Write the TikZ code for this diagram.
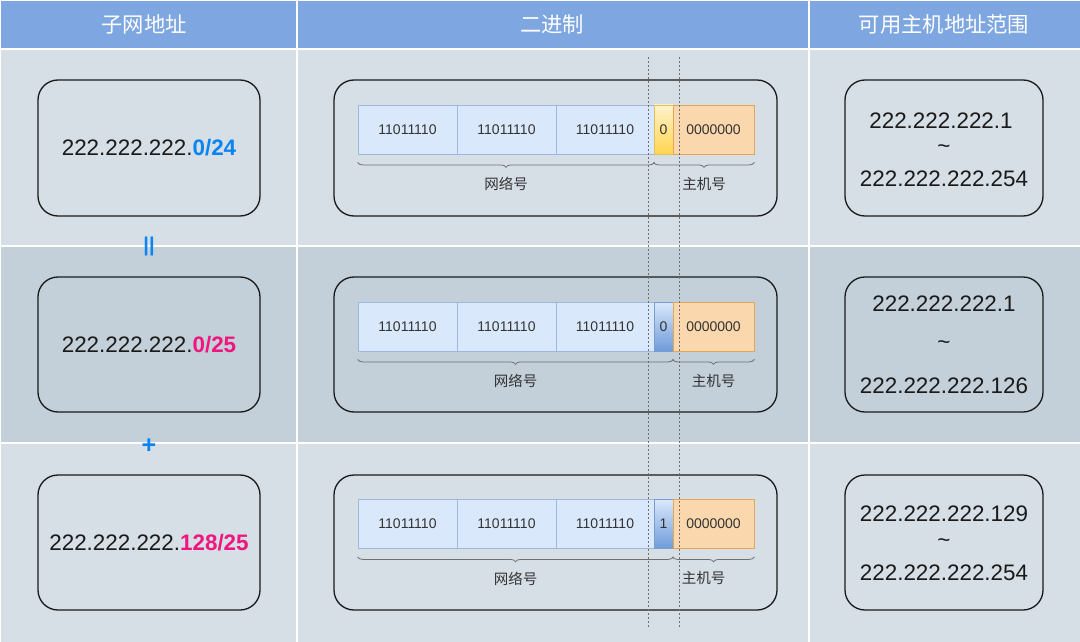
\documentclass[tikz,border=0pt]{standalone}
\usepackage{fontspec}
\setmainfont{Liberation Sans}
\newfontfamily\cjk{Noto Sans CJK SC}
\usetikzlibrary{decorations.pathreplacing}
\definecolor{hdr}{HTML}{7EA6E0}
\definecolor{rowA}{HTML}{D6DEE6}
\definecolor{rowB}{HTML}{C3CFD9}
\definecolor{netfill}{HTML}{DAE8FC}
\definecolor{netline}{HTML}{9DB7DE}
\definecolor{hostfill}{HTML}{FAD7AC}
\definecolor{hostline}{HTML}{E3A657}
\definecolor{ytop}{HTML}{FFF2CC}
\definecolor{ybot}{HTML}{FFD54F}
\definecolor{yline}{HTML}{E0C060}
\definecolor{btop}{HTML}{DAE8FC}
\definecolor{bbot}{HTML}{6F9BDA}
\definecolor{bline}{HTML}{7A9CCF}
\definecolor{myblue}{HTML}{0A84F0}
\definecolor{mypink}{HTML}{F0157F}
\definecolor{txt}{HTML}{1A1A1A}
\definecolor{celltxt}{HTML}{333333}
\definecolor{brc}{HTML}{707070}
\tikzset{
  hdrcell/.style={fill=hdr, draw=none},
  hdrtext/.style={text=white, font=\cjk\fontsize{21.3}{25}\selectfont},
  outerbox/.style={draw=txt, line width=1.3pt, rounded corners=20pt, inner sep=0pt},
  addrtext/.style={text=txt, font=\fontsize{22.4}{26}\selectfont},
  netcell/.style={fill=netfill, draw=netline, line width=0.8pt, minimum height=49pt, inner sep=0pt, text=celltxt, font=\fontsize{14}{16}\selectfont},
  hostcell/.style={fill=hostfill, draw=hostline, line width=0.8pt, minimum height=49pt, minimum width=81pt, inner sep=0pt, text=celltxt, font=\fontsize{14}{16}\selectfont},
  ycell/.style={top color=ytop, bottom color=ybot, draw=yline, line width=0.8pt, minimum height=49pt, minimum width=19pt, inner sep=0pt, text=celltxt, font=\fontsize{14}{16}\selectfont},
  bcell/.style={top color=btop, bottom color=bbot, draw=bline, line width=0.8pt, minimum height=49pt, minimum width=19pt, inner sep=0pt, text=celltxt, font=\fontsize{14}{16}\selectfont},
  brc/.style={draw=brc, line width=0.8pt, decorate, decoration={brace, mirror, amplitude=5pt}},
  brlabel/.style={text=celltxt, font=\cjk\fontsize{14.5}{16}\selectfont},
  divline/.style={draw=brc, line width=0.8pt, dash pattern=on 2pt off 2pt},
  opsign/.style={text=myblue, font=\bfseries\fontsize{20}{22}\selectfont}
}
\begin{document}
\begin{tikzpicture}[x=1pt,y=-1pt]
\useasboundingbox (0,0) rectangle (1080,642);
\fill[white] (0,0) rectangle (1080,642);
% header
\fill[hdrcell] (1,1) rectangle (296,48);
\fill[hdrcell] (298,1) rectangle (808,48);
\fill[hdrcell] (810,1) rectangle (1080,48);
\node[hdrtext] (h1) at (144,24) {子网地址};
\node[hdrtext] (h2) at (552,24) {二进制};
\node[hdrtext] (h3) at (944,24) {可用主机地址范围};
% rows
\fill[rowA] (1,50) rectangle (296,245);
\fill[rowA] (298,50) rectangle (808,245);
\fill[rowA] (810,50) rectangle (1080,245);
\fill[rowB] (1,247) rectangle (296,442);
\fill[rowB] (298,247) rectangle (808,442);
\fill[rowB] (810,247) rectangle (1080,442);
\fill[rowA] (1,444) rectangle (296,642);
\fill[rowA] (298,444) rectangle (808,642);
\fill[rowA] (810,444) rectangle (1080,642);

% left boxes
\node[outerbox, minimum width=222pt, minimum height=136pt] (L1) at (149,148) {};
\node[addrtext] (L1t) at (L1.center) {222.222.222.\textcolor{myblue}{\bfseries 0/24}};
\node[outerbox, minimum width=222pt, minimum height=135pt] (L2) at (149,344.5) {};
\node[addrtext] (L2t) at (L2.center) {222.222.222.\textcolor{mypink}{\bfseries 0/25}};
\node[outerbox, minimum width=222pt, minimum height=135pt] (L3) at (149,542.5) {};
\node[addrtext] (L3t) at (L3.center) {222.222.222.\textcolor{mypink}{\bfseries 128/25}};
\node[opsign] (eq) at (149,246) {||};
\node[opsign, font=\bfseries\fontsize{25}{26}\selectfont] (plus) at (149,446) {+};

% middle boxes
\node[outerbox, minimum width=443pt, minimum height=136pt] (M1) at (555.5,148) {};
\node[outerbox, minimum width=443pt, minimum height=135pt] (M2) at (555.5,344.5) {};
\node[outerbox, minimum width=443pt, minimum height=135pt] (M3) at (555.5,542.5) {};

% right boxes
\node[outerbox, minimum width=198pt, minimum height=136pt] (R1) at (944,148) {};
\node[outerbox, minimum width=198pt, minimum height=135pt] (R2) at (944,344.5) {};
\node[outerbox, minimum width=198pt, minimum height=135pt] (R3) at (944,542.5) {};
\node[addrtext] (R1a) at (941,121) {222.222.222.1};
\node[addrtext] (R1b) at (944,149) {\~{}};
\node[addrtext] (R1c) at (944,179) {222.222.222.254};
\node[addrtext] (R2a) at (944,304) {222.222.222.1};
\node[addrtext] (R2b) at (944,345) {\~{}};
\node[addrtext] (R2c) at (944,386) {222.222.222.126};
\node[addrtext] (R3a) at (944,514) {222.222.222.129};
\node[addrtext] (R3b) at (944,543) {\~{}};
\node[addrtext] (R3c) at (944,573) {222.222.222.254};

% row 1 cells
\node[netcell, minimum width=99pt] (a1) at (407.5,129.5) {11011110};
\node[netcell, minimum width=99pt] (a2) at (506.5,129.5) {11011110};
\node[netcell, minimum width=98pt] (a3) at (605,129.5) {11011110};
\node[ycell] (a4) at (663.5,129.5) {0};
\node[hostcell] (a5) at (713.5,129.5) {0000000};
% row 2 cells
\node[netcell, minimum width=99pt] (b1) at (407.5,326.5) {11011110};
\node[netcell, minimum width=99pt] (b2) at (506.5,326.5) {11011110};
\node[netcell, minimum width=98pt] (b3) at (605,326.5) {11011110};
\node[bcell] (b4) at (663.5,326.5) {0};
\node[hostcell] (b5) at (713.5,326.5) {0000000};
% row 3 cells
\node[netcell, minimum width=99pt] (c1) at (407.5,524) {11011110};
\node[netcell, minimum width=99pt] (c2) at (506.5,524) {11011110};
\node[netcell, minimum width=98pt] (c3) at (605,524) {11011110};
\node[bcell] (c4) at (663.5,524) {1};
\node[hostcell] (c5) at (713.5,524) {0000000};

% braces row 1
\draw[brc] ([yshift=-8pt]a1.south west) -- node[brlabel, below=11pt] (n1) {网络号} ([yshift=-8pt]a3.south east);
\draw[brc] ([yshift=-8pt]a4.south west) -- node[brlabel, below=11pt] (k1) {主机号} ([yshift=-8pt]a5.south east);
% braces row 2
\draw[brc] ([yshift=-8pt]b1.south west) -- node[brlabel, below=11pt] (n2) {网络号} ([yshift=-8pt]b4.south east);
\draw[brc] ([yshift=-8pt]b5.south west) -- node[brlabel, below=11pt] (k2) {主机号} ([yshift=-8pt]b5.south east);
% braces row 3
\draw[brc] ([yshift=-8pt]c1.south west) -- node[brlabel, below=11pt] (n3) {网络号} ([yshift=-8pt]c4.south east);
\draw[brc] ([yshift=-8pt]c5.south west) -- node[brlabel, below=11pt, xshift=-10pt] (k3) {主机号} ([yshift=-8pt]c5.south east);

% dividing dashed lines
\coordinate (d1t) at (648,57);
\coordinate (d1b) at (648,628);
\coordinate (d2t) at (679,57);
\coordinate (d2b) at (679,628);
\draw[divline] (d1t) -- (d1b);
\draw[divline] (d2t) -- (d2b);
\end{tikzpicture}
\end{document}
